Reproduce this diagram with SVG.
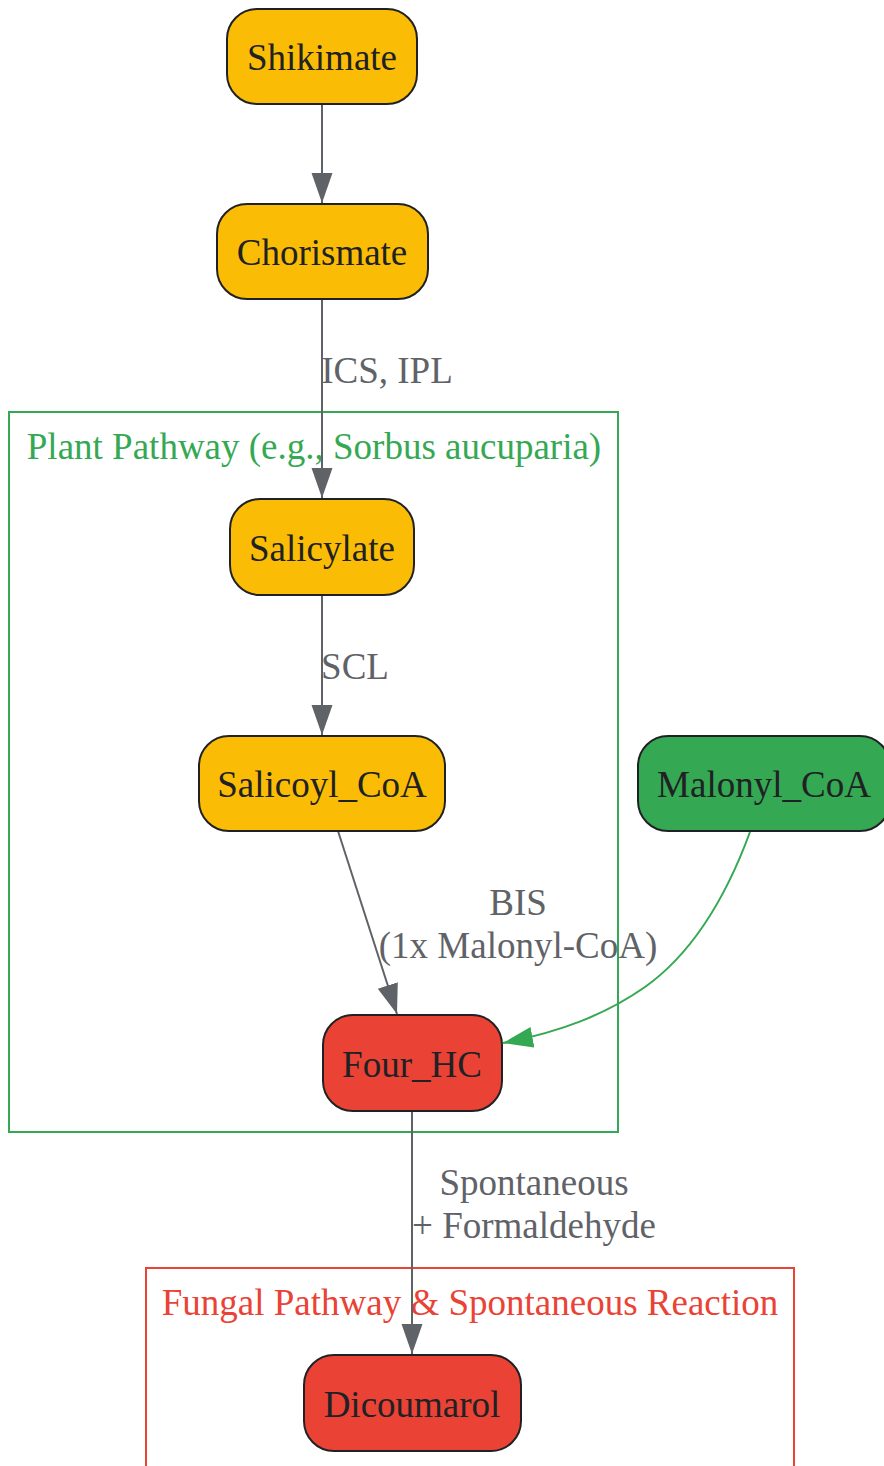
<svg xmlns="http://www.w3.org/2000/svg" width="884" height="1466" viewBox="0 0 884 1466">
<style>
.node rect{stroke:#202124;stroke-width:2}
.nt{font-family:"Liberation Serif",serif;font-size:37px;fill:#202124;text-anchor:middle}
.el{font-family:"Liberation Serif",serif;font-size:37px;fill:#5f6368;text-anchor:middle}
.edge{fill:none;stroke:#5f6368;stroke-width:2}
.yel{fill:#fbbc05}.grn{fill:#34a853}.red{fill:#ea4335}
</style>
<defs>
<marker id="ag" markerUnits="userSpaceOnUse" markerWidth="32" markerHeight="24" refX="30" refY="10.5" orient="auto"><path d="M0,0 L30,10.5 L0,21 z" fill="#5f6368"/></marker>
<marker id="agr" markerUnits="userSpaceOnUse" markerWidth="32" markerHeight="24" refX="30" refY="10.5" orient="auto"><path d="M0,0 L30,10.5 L0,21 z" fill="#34a853"/></marker>
</defs>
<rect width="884" height="1466" fill="#ffffff"/>
<g id="cluster_plant">
<rect x="9" y="412" width="609" height="720" fill="none" stroke="#34a853" stroke-width="2"/>
<text x="314" y="459" font-family="Liberation Serif,serif" font-size="37" fill="#34a853" text-anchor="middle">Plant Pathway (e.g., Sorbus aucuparia)</text>
</g>
<g id="cluster_fungal">
<rect x="146" y="1268" width="648" height="220" fill="none" stroke="#ea4335" stroke-width="2"/>
<text x="470" y="1315" font-family="Liberation Serif,serif" font-size="37" fill="#ea4335" text-anchor="middle">Fungal Pathway &amp; Spontaneous Reaction</text>
</g>
<g id="connectors">
<path class="edge" d="M322,104 L322,203" marker-end="url(#ag)"/>
<path class="edge" d="M322,299 L322,498" marker-end="url(#ag)"/>
<text class="el" x="387" y="383">ICS, IPL</text>
<path class="edge" d="M322,595 L322,735" marker-end="url(#ag)"/>
<text class="el" x="355" y="679">SCL</text>
<path class="edge" d="M338,831 L397,1014" marker-end="url(#ag)"/>
<text class="el" x="518" y="915">BIS</text>
<text class="el" x="518" y="958">(1x Malonyl-CoA)</text>
<path class="edge" style="stroke:#34a853" d="M750,832 C725,900 690,955 645,987 C605,1015 560,1032 503,1043" marker-end="url(#agr)"/>
<path class="edge" d="M412,1111 L412,1354" marker-end="url(#ag)"/>
<text class="el" x="534" y="1195">Spontaneous</text>
<text class="el" x="534" y="1238">+ Formaldehyde</text>
</g>
<g id="Shikimate" class="node"><rect class="yel" x="227" y="9" width="190" height="95" rx="30"/><text class="nt" x="322" y="70">Shikimate</text></g>
<g id="Chorismate" class="node"><rect class="yel" x="217" y="204" width="211" height="95" rx="30"/><text class="nt" x="322" y="265">Chorismate</text></g>
<g id="Salicylate" class="node"><rect class="yel" x="230" y="499" width="184" height="96" rx="30"/><text class="nt" x="322" y="561">Salicylate</text></g>
<g id="Salicoyl_CoA" class="node"><rect class="yel" x="199" y="736" width="246" height="95" rx="30"/><text class="nt" x="322" y="797">Salicoyl_CoA</text></g>
<g id="Malonyl_CoA" class="node"><rect class="grn" x="638" y="736" width="252" height="95" rx="30"/><text class="nt" x="764" y="797">Malonyl_CoA</text></g>
<g id="Four_HC" class="node"><rect class="red" x="323" y="1015" width="179" height="96" rx="30"/><text class="nt" x="412" y="1077">Four_HC</text></g>
<g id="Dicoumarol" class="node"><rect class="red" x="304" y="1355" width="217" height="96" rx="30"/><text class="nt" x="412" y="1417">Dicoumarol</text></g>
</svg>
